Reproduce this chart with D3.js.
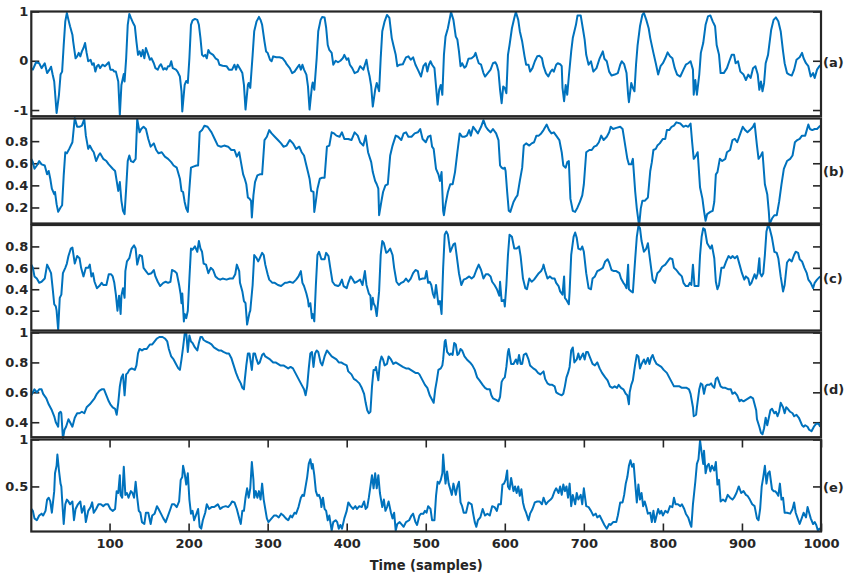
<!DOCTYPE html>
<html>
<head>
<meta charset="utf-8">
<script src="https://cdn.jsdelivr.net/npm/d3@7"></script>
<style>
  body { margin: 0; background: #fff; }
  text { font-family: "DejaVu Sans", sans-serif; font-weight: bold; fill: #262626; }
</style>
</head>
<body>
<div id="chart"></div>
<script>
// [sample, value]
const seriesA = [[1,-0.15],[3,-0.18],[7,-0.03],[11,-0.05],[14,-0.15],[18,-0.05],[21,-0.25],[24,-0.18],[26,-0.12],[28,-0.28],[30,-0.42],[33,-1.06],[36,-0.69],[38,-0.28],[40,-0.22],[42,0.32],[44,0.8],[46,0.97],[48,0.83],[50,0.70],[53,0.53],[54,0.39],[57,0.05],[59,0.09],[61,0.16],[63,0.09],[65,0.19],[67,0.26],[69,0.36],[71,0.16],[73,-0.01],[76,0.02],[78,-0.08],[80,-0.05],[82,-0.22],[84,-0.11],[86,-0.08],[88,-0.15],[91,-0.08],[94,-0.11],[96,-0.08],[99,-0.03],[101,-0.18],[104,-0.18],[106,-0.22],[108,-0.22],[111,-0.42],[113,-1.10],[115,-0.49],[118,-0.27],[119,-0.42],[121,0.05],[123,0.73],[125,0.95],[127,0.87],[130,0.76],[132,0.70],[134,0.39],[136,0.12],[138,0.19],[140,0.09],[142,0.22],[144,0.05],[146,0.26],[149,0.12],[151,0.02],[153,0.05],[156,-0.05],[158,-0.15],[161,-0.18],[163,-0.11],[165,-0.07],[168,-0.18],[170,-0.15],[172,-0.18],[174,-0.11],[176,-0.11],[178,-0.01],[180,-0.15],[184,-0.18],[186,-0.22],[189,-0.32],[191,-0.62],[192,-1.03],[195,-0.49],[197,-0.41],[199,-0.45],[201,0.05],[203,0.73],[205,0.82],[208,0.85],[211,0.83],[213,0.73],[215,0.46],[217,0.12],[219,0.09],[221,0.12],[223,0.05],[225,0.22],[227,0.16],[231,0.12],[234,0.05],[237,0.02],[239,-0.08],[243,-0.10],[248,-0.11],[251,-0.18],[255,-0.18],[258,-0.08],[260,-0.18],[262,-0.08],[265,-0.16],[268,-0.25],[270,-0.49],[272,-0.99],[275,-0.49],[276,-0.45],[278,-0.55],[281,0.12],[283,0.60],[286,0.80],[289,0.89],[291,0.83],[293,0.73],[296,0.39],[298,0.19],[300,0.16],[303,0.02],[305,-0.01],[307,0.09],[311,0.07],[315,0.07],[319,0.05],[322,-0.01],[324,-0.07],[328,-0.15],[331,-0.25],[334,-0.22],[337,-0.15],[340,-0.08],[342,-0.18],[344,-0.08],[346,-0.18],[349,-0.28],[351,-0.52],[353,-0.99],[356,-0.52],[357,-0.44],[359,-0.59],[362,0.05],[364,0.60],[367,0.83],[369,0.89],[372,0.88],[374,0.67],[376,0.32],[378,0.22],[381,0.16],[383,-0.08],[386,0],[389,-0.03],[392,0],[395,0.05],[397,0.12],[400,0.02],[402,0.05],[404,-0.08],[407,-0.15],[410,-0.25],[414,-0.22],[417,-0.11],[421,-0.18],[423,-0.08],[425,0.02],[427,-0.18],[429,-0.32],[431,-0.52],[433,-0.93],[436,-0.59],[438,-0.45],[441,-0.62],[443,0.05],[445,0.60],[448,0.80],[451,0.93],[454,0.87],[457,0.46],[459,0.32],[462,0.12],[464,-0.11],[467,-0.08],[471,-0.07],[475,0.07],[478,0.09],[481,0.02],[484,0.07],[487,-0.08],[490,-0.18],
  [494,-0.32],[497,-0.11],[500,-0.05],[502,-0.22],[504,-0.08],[506,-0.01],[508,-0.08],[511,-0.15],[513,-0.52],[515,-0.89],[517,-0.59],[519,-0.49],[521,-0.69],[523,0.12],[525,0.49],[528,0.66],[532,0.99],[535,0.83],[538,0.49],[540,0.43],[542,0.19],[544,-0.11],[546,-0.05],[549,-0.14],[551,-0.11],[554,0.04],[558,0.05],[561,0.09],[563,0.16],[565,0.05],[567,-0.05],[570,-0.08],[573,-0.25],[575,-0.32],[577,-0.28],[580,-0.22],[582,-0.18],[585,-0.05],[588,-0.03],[590,-0.09],[592,-0.22],[594,-0.59],[596,-0.86],[598,-0.52],[600,-0.55],[602,-0.66],[604,0.12],[606,0.32],[609,0.66],[612,0.87],[614,0.99],[617,0.83],[619,0.6],[622,0.39],[625,0.09],[627,-0.08],[630,-0.08],[632,-0.22],[635,-0.15],[638,-0.01],[641,0.09],[644,0.1],[647,0.05],[649,-0.11],[652,-0.25],[655,-0.32],[658,-0.22],[660,-0.18],[662,-0.22],[665,-0.08],[667,-0.05],[670,-0.07],[672,-0.11],[673,-0.55],[675,-0.82],[677,-0.49],[679,-0.69],[681,-0.32],[684,0.19],[686,0.46],[690,0.73],[692,0.92],[696,0.92],[699,0.63],[701,0.43],[703,0.12],[706,-0.08],[709,-0.01],[712,-0.22],[716,-0.15],[720,0.05],[724,0.19],[726,0.04],[729,-0.01],[732,-0.22],[735,-0.3],[739,-0.28],[743,-0.25],[746,-0.08],[748,-0.01],[751,-0.07],[754,-0.25],[756,-0.69],[757,-0.84],[760,-0.45],[762,-0.55],[764,-0.62],[766,-0.08],[768,0.32],[771,0.70],[774,0.93],[776,0.97],[779,0.83],[782,0.66],[784,0.46],[788,0.16],[791,-0.05],[794,-0.28],[797,-0.11],[800,-0.05],[803,0.05],[806,0.17],[809,0.09],[812,0.05],[815,-0.15],[818,-0.28],[822,-0.32],[826,-0.18],[829,-0.08],[832,-0.05],[835,-0.01],[838,-0.18],[839,-0.69],[841,-0.39],[843,-0.69],[846,-0.28],[848,0.16],[851,0.36],[854,0.73],[857,0.9],[860,0.92],[863,0.8],[866,0.70],[868,0.32],[871,0.12],[873,-0.25],[877,-0.25],[881,-0.15],[884,-0.01],[887,0.12],[890,0.12],[892,-0.05],[895,-0.01],[898,-0.22],[902,-0.28],[905,-0.39],[908,-0.28],[911,-0.35],[914,-0.15],[917,-0.11],[920,-0.28],[922,-0.59],[924,-0.42],[926,-0.62],[928,-0.45],[930,-0.05],[933,0.12],[937,0.63],[940,0.83],[943,0.88],[946,0.8],[949,0.6],[952,0.19],[954,-0.05],[957,-0.25],[960,-0.28],[963,-0.3],[966,-0.18],[969,0.02],[973,0.07],[976,0.16],[978,0.05],[981,-0.05],[984,-0.11],[987,-0.32],[990,-0.25],[992,-0.35],[995,-0.18],[998,-0.11],[1000,-0.08]];

const seriesB = [[1,0.64],[3,0.61],[5,0.55],[8,0.58],[11,0.62],[14,0.59],[18,0.58],[21,0.5],[23,0.53],[25,0.46],[27,0.37],[30,0.32],[31,0.34],[33,0.23],[35,0.16],[38,0.2],[40,0.22],[42,0.49],[44,0.7],[46,0.69],[49,0.73],[53,0.79],[56,1.01],[59,0.93],[62,0.93],[65,0.94],[68,1.0],[70,0.85],[73,0.73],[75,0.76],[78,0.72],[80,0.7],[83,0.62],[86,0.67],[88,0.69],[92,0.64],[96,0.62],[99,0.59],[104,0.55],[107,0.53],[109,0.44],[111,0.35],[113,0.43],[115,0.26],[117,0.17],[119,0.14],[121,0.37],[123,0.62],[125,0.67],[127,0.62],[130,0.61],[133,0.64],[135,1.0],[138,0.88],[140,0.91],[143,0.93],[146,0.91],[149,0.82],[152,0.75],[156,0.78],[159,0.72],[162,0.69],[166,0.7],[170,0.66],[174,0.64],[178,0.61],[181,0.58],[185,0.56],[189,0.46],[191,0.35],[193,0.34],[195,0.25],[197,0.19],[199,0.16],[201,0.37],[203,0.56],[206,0.57],[210,0.58],[212,0.58],[214,0.88],[217,0.9],[220,0.94],[224,0.93],[229,0.88],[233,0.82],[237,0.76],[241,0.75],[245,0.76],[250,0.75],[254,0.72],[258,0.72],[261,0.66],[264,0.7],[266,0.62],[269,0.5],[271,0.46],[273,0.41],[275,0.29],[277,0.28],[279,0.26],[280,0.11],[282,0.31],[284,0.43],[287,0.49],[290,0.5],[293,0.5],[296,0.81],[299,0.84],[302,0.9],[305,0.87],[309,0.84],[313,0.81],[317,0.78],[320,0.75],[324,0.76],[328,0.81],[332,0.78],[336,0.73],[340,0.75],[343,0.7],[346,0.67],[348,0.61],[351,0.52],[353,0.46],[355,0.35],[358,0.34],[359,0.16],[361,0.26],[363,0.37],[366,0.46],[369,0.47],[372,0.47],[375,0.75],[378,0.76],[381,0.88],[384,0.87],[387,0.85],[391,0.84],[394,0.88],[397,0.82],[402,0.82],[406,0.81],[410,0.88],[414,0.85],[417,0.79],[421,0.76],[424,0.85],[427,0.7],[431,0.61],[433,0.52],[436,0.44],[438,0.41],[440,0.37],[441,0.13],[444,0.26],[446,0.34],[449,0.4],[452,0.41],[455,0.67],[458,0.76],[462,0.85],[465,0.84],[469,0.81],[472,0.87],[475,0.88],[478,0.84],[482,0.84],[486,0.87],[490,0.88],[493,0.91],
  [496,0.82],[500,0.79],[503,0.84],[506,0.85],[508,0.75],[510,0.73],[513,0.55],[516,0.5],[518,0.44],[520,0.52],[522,0.17],[523,0.13],[525,0.23],[528,0.34],[531,0.41],[534,0.41],[537,0.52],[540,0.7],[543,0.87],[546,0.84],[549,0.84],[552,0.85],[555,0.9],[557,0.85],[560,0.93],[563,0.9],[566,0.87],[570,0.93],[573,0.99],[576,0.93],[579,0.9],[582,0.88],[585,0.91],[589,0.87],[592,0.81],[594,0.58],[596,0.56],[598,0.55],[600,0.56],[601,0.53],[603,0.34],[605,0.17],[607,0.16],[611,0.25],[614,0.29],[616,0.31],[619,0.44],[622,0.56],[624,0.76],[627,0.78],[631,0.76],[634,0.78],[637,0.79],[640,0.85],[643,0.85],[646,0.87],[649,0.9],[653,0.95],[656,0.9],[659,0.87],[662,0.88],[665,0.85],[669,0.81],[672,0.7],[674,0.58],[677,0.56],[679,0.61],[681,0.62],[683,0.28],[686,0.17],[689,0.16],[692,0.2],[695,0.25],[698,0.31],[700,0.41],[703,0.7],[707,0.72],[710,0.72],[713,0.75],[716,0.76],[719,0.79],[722,0.85],[725,0.81],[729,0.84],[732,0.88],[734,0.93],[737,0.91],[741,0.92],[746,0.93],[749,0.91],[751,0.82],[753,0.73],[755,0.64],[757,0.59],[760,0.59],[762,0.64],[765,0.34],[767,0.19],[769,0.08],[770,0.04],[772,0.19],[774,0.26],[777,0.26],[781,0.29],[784,0.53],[786,0.61],[788,0.72],[791,0.73],[793,0.76],[796,0.78],[800,0.82],[803,0.82],[805,0.9],[808,0.9],[811,0.93],[814,0.94],[817,0.97],[822,0.96],[826,0.93],[829,0.94],[832,0.93],[835,0.96],[837,0.79],[839,0.64],[842,0.67],[844,0.7],[847,0.38],[850,0.28],[852,0.17],[854,0.08],[856,0.14],[860,0.16],[863,0.17],[865,0.25],[867,0.5],[869,0.52],[872,0.64],[875,0.62],[879,0.64],[881,0.7],[885,0.72],[888,0.81],[891,0.82],[894,0.79],[898,0.87],[901,0.93],[904,0.9],[907,0.88],[910,0.9],[914,0.93],[916,0.96],[919,0.76],[921,0.64],[924,0.67],[926,0.7],[929,0.41],[932,0.32],[934,0.16],[935,0.05],[938,0.1],[941,0.13],[944,0.13],[947,0.25],[950,0.41],[953,0.55],[957,0.62],[961,0.64],[964,0.67],[967,0.79],[970,0.81],[973,0.82],[976,0.85],[980,0.85],[982,0.9],[984,0.95],[986,0.91],[989,0.9],[992,0.91],[995,0.91],[999,0.94]];

const seriesC = [[1,0.63],[3,0.6],[5,0.52],[8,0.5],[11,0.46],[14,0.47],[18,0.5],[21,0.63],[23,0.6],[26,0.55],[28,0.41],[30,0.26],[32,0.24],[33,0.2],[35,0.02],[37,0.32],[39,0.35],[41,0.55],[44,0.6],[46,0.64],[48,0.71],[51,0.78],[53,0.79],[56,0.64],[59,0.71],[62,0.69],[64,0.6],[67,0.52],[70,0.6],[73,0.6],[75,0.63],[77,0.52],[79,0.55],[81,0.47],[84,0.41],[87,0.43],[90,0.46],[92,0.44],[96,0.44],[99,0.54],[102,0.54],[104,0.52],[106,0.46],[108,0.35],[110,0.2],[112,0.34],[114,0.17],[115,0.34],[117,0.41],[119,0.32],[120,0.57],[122,0.66],[125,0.69],[128,0.78],[131,0.81],[133,0.78],[135,0.63],[138,0.72],[141,0.71],[143,0.6],[146,0.57],[149,0.54],[153,0.55],[156,0.58],[158,0.52],[161,0.47],[164,0.43],[168,0.46],[171,0.47],[174,0.46],[177,0.47],[179,0.58],[182,0.57],[185,0.55],[188,0.44],[190,0.35],[191,0.27],[192,0.36],[194,0.1],[195,0.17],[197,0.13],[199,0.2],[201,0.5],[203,0.78],[205,0.77],[208,0.8],[211,0.75],[213,0.85],[215,0.78],[217,0.75],[219,0.64],[222,0.63],[225,0.55],[228,0.6],[231,0.58],[234,0.52],[237,0.5],[240,0.49],[243,0.5],[248,0.49],[252,0.5],[256,0.5],[259,0.54],[261,0.63],[264,0.57],[265,0.46],[268,0.38],[270,0.29],[272,0.27],[273,0.17],[274,0.07],[277,0.18],[278,0.2],[281,0.44],[283,0.72],[286,0.69],[288,0.66],[290,0.69],[293,0.74],[295,0.72],[297,0.63],[300,0.54],[302,0.49],[306,0.46],[309,0.46],[313,0.44],[317,0.43],[322,0.46],[324,0.46],[328,0.47],[332,0.46],[336,0.49],[339,0.52],[342,0.57],[344,0.46],[346,0.43],[349,0.36],[351,0.3],[352,0.24],[354,0.27],[356,0.13],[357,0.17],[359,0.1],[361,0.44],[363,0.72],[365,0.75],[368,0.68],[372,0.68],[374,0.74],[377,0.71],[379,0.61],[382,0.47],[385,0.44],[389,0.43],[391,0.44],[394,0.49],[396,0.43],[400,0.41],[402,0.46],[405,0.52],[407,0.5],[410,0.46],[413,0.47],[417,0.49],[420,0.44],[423,0.57],[425,0.44],[428,0.36],[430,0.34],[431,0.21],[433,0.32],[434,0.27],[436,0.24],[438,0.15],[441,0.38],[443,0.72],[445,0.85],[447,0.83],[450,0.74],[452,0.75],[455,0.78],[458,0.72],[460,0.6],[463,0.47],[466,0.44],[469,0.46],[472,0.47],[475,0.5],[478,0.47],[481,0.5],[484,0.55],[487,0.58],[490,0.57],
  [492,0.49],[496,0.5],[499,0.5],[501,0.57],[503,0.46],[505,0.47],[507,0.44],[509,0.36],[511,0.32],[513,0.44],[516,0.26],[518,0.29],[520,0.17],[522,0.6],[524,0.91],[526,0.94],[528,0.91],[531,0.75],[535,0.82],[537,0.83],[539,0.72],[542,0.55],[545,0.44],[548,0.49],[551,0.5],[555,0.52],[558,0.5],[561,0.52],[564,0.58],[567,0.63],[570,0.58],[573,0.5],[576,0.54],[579,0.54],[582,0.52],[584,0.47],[587,0.44],[590,0.4],[593,0.34],[594,0.47],[596,0.29],[599,0.3],[600,0.24],[602,0.44],[604,0.72],[606,0.91],[609,0.89],[612,0.78],[615,0.78],[618,0.8],[620,0.71],[623,0.5],[626,0.41],[628,0.4],[631,0.5],[634,0.47],[637,0.49],[640,0.52],[643,0.55],[646,0.57],[648,0.6],[649,0.63],[651,0.57],[654,0.5],[657,0.52],[660,0.5],[663,0.5],[665,0.46],[668,0.43],[670,0.38],[673,0.35],[675,0.52],[676,0.32],[678,0.3],[681,0.26],[682,0.38],[684,0.72],[687,0.89],[689,0.93],[691,0.88],[693,0.78],[696,0.77],[698,0.8],[700,0.75],[703,0.55],[706,0.41],[709,0.4],[711,0.5],[714,0.52],[717,0.57],[720,0.58],[724,0.6],[727,0.66],[730,0.68],[732,0.65],[735,0.58],[738,0.57],[741,0.57],[745,0.55],[747,0.5],[750,0.46],[752,0.44],[754,0.41],[756,0.63],[757,0.4],[760,0.38],[762,0.37],[765,0.69],[767,0.89],[769,0.99],[771,0.97],[773,0.85],[776,0.75],[779,0.78],[781,0.83],[784,0.66],[787,0.49],[790,0.46],[793,0.55],[796,0.57],[799,0.61],[803,0.63],[806,0.66],[809,0.69],[812,0.68],[814,0.6],[817,0.58],[820,0.55],[824,0.52],[826,0.46],[829,0.43],[832,0.43],[834,0.46],[836,0.44],[838,0.63],[840,0.43],[843,0.43],[845,0.43],[847,0.72],[849,0.89],[851,0.97],[853,0.96],[856,0.83],[860,0.78],[862,0.81],[865,0.69],[867,0.47],[869,0.4],[871,0.44],[874,0.6],[877,0.6],[880,0.66],[883,0.71],[886,0.69],[888,0.71],[891,0.69],[894,0.71],[897,0.63],[900,0.55],[903,0.49],[905,0.52],[908,0.5],[910,0.44],[912,0.46],[916,0.54],[918,0.5],[920,0.55],[922,0.69],[923,0.55],[925,0.52],[927,0.55],[929,0.72],[931,0.94],[933,1.0],[935,0.97],[938,0.88],[941,0.75],[944,0.74],[946,0.69],[949,0.52],[952,0.38],[954,0.44],[957,0.65],[960,0.68],[963,0.66],[966,0.72],[968,0.75],[971,0.74],[973,0.68],[976,0.66],[979,0.6],[982,0.55],[984,0.49],[987,0.46],[990,0.41],[992,0.46],[995,0.49],[999,0.52]];

const seriesD = [[1,0.58],[3,0.6],[5,0.62],[8,0.6],[11,0.62],[14,0.62],[16,0.59],[20,0.56],[23,0.52],[25,0.5],[27,0.48],[30,0.44],[32,0.4],[33,0.39],[35,0.37],[36,0.46],[38,0.47],[39,0.46],[41,0.29],[43,0.35],[45,0.37],[48,0.42],[50,0.4],[53,0.37],[56,0.43],[59,0.46],[62,0.46],[65,0.47],[68,0.46],[71,0.5],[75,0.52],[78,0.54],[81,0.56],[84,0.59],[87,0.61],[90,0.62],[93,0.62],[96,0.58],[99,0.54],[101,0.52],[104,0.5],[107,0.49],[109,0.45],[111,0.53],[113,0.64],[115,0.7],[117,0.72],[119,0.58],[121,0.72],[123,0.73],[125,0.75],[128,0.76],[132,0.75],[134,0.78],[136,0.86],[138,0.89],[141,0.88],[144,0.89],[147,0.89],[151,0.92],[154,0.92],[157,0.94],[160,0.96],[163,0.97],[167,0.97],[170,0.96],[173,0.94],[175,0.89],[178,0.84],[181,0.82],[184,0.79],[187,0.76],[189,0.75],[191,0.82],[193,0.9],[195,0.99],[197,1.0],[199,0.87],[201,0.98],[203,0.94],[205,0.93],[208,0.9],[211,0.88],[213,0.93],[215,0.97],[217,0.97],[219,0.95],[222,0.94],[226,0.93],[229,0.92],[232,0.9],[235,0.89],[238,0.88],[241,0.88],[244,0.87],[248,0.86],[251,0.86],[254,0.83],[257,0.78],[260,0.73],[263,0.69],[266,0.66],[268,0.63],[270,0.62],[271,0.68],[273,0.78],[275,0.86],[277,0.86],[280,0.75],[282,0.86],[284,0.86],[286,0.82],[288,0.79],[290,0.8],[293,0.85],[295,0.86],[297,0.84],[300,0.83],[303,0.82],[307,0.8],[310,0.8],[313,0.79],[316,0.78],[320,0.78],[323,0.77],[326,0.76],[329,0.77],[332,0.76],[335,0.73],[338,0.7],[341,0.67],[343,0.65],[346,0.62],[348,0.58],[350,0.64],[352,0.76],[354,0.86],[356,0.87],[358,0.77],[360,0.86],[362,0.88],[364,0.87],[367,0.8],[369,0.78],[372,0.84],[375,0.88],[378,0.86],[381,0.84],[384,0.83],[387,0.82],[390,0.8],[393,0.8],[396,0.79],[400,0.78],[402,0.74],[406,0.72],[409,0.69],[412,0.68],[416,0.66],[419,0.63],[422,0.59],[424,0.53],[426,0.48],[428,0.46],[430,0.47],[432,0.64],[434,0.75],[436,0.75],[437,0.77],[440,0.68],[442,0.8],[444,0.84],[446,0.82],[448,0.78],[451,0.79],[453,0.84],[456,0.82],[459,0.79],[462,0.8],[465,0.79],[468,0.78],[471,0.77],[475,0.76],[478,0.76],[481,0.75],[484,0.74],[487,0.73],[490,0.73],
  [492,0.72],[496,0.68],[499,0.65],[502,0.63],[505,0.58],[508,0.55],[510,0.53],[512,0.62],[514,0.68],[516,0.75],[519,0.76],[521,0.78],[522,0.82],[524,0.94],[525,0.95],[527,0.87],[530,0.85],[532,0.86],[534,0.85],[536,0.93],[538,0.92],[540,0.85],[542,0.86],[544,0.89],[546,0.88],[549,0.84],[552,0.82],[556,0.8],[559,0.78],[562,0.75],[565,0.7],[568,0.68],[572,0.65],[575,0.63],[578,0.62],[581,0.62],[583,0.58],[585,0.56],[589,0.55],[592,0.54],[594,0.57],[596,0.67],[598,0.69],[600,0.7],[602,0.77],[604,0.87],[605,0.89],[608,0.79],[611,0.79],[614,0.82],[616,0.79],[618,0.85],[620,0.79],[622,0.79],[624,0.85],[627,0.86],[630,0.82],[632,0.78],[636,0.76],[639,0.75],[642,0.73],[645,0.72],[649,0.74],[651,0.69],[654,0.66],[657,0.65],[660,0.65],[663,0.64],[665,0.6],[668,0.59],[672,0.58],[674,0.59],[676,0.64],[678,0.7],[680,0.73],[682,0.77],[684,0.88],[686,0.9],[688,0.8],[691,0.82],[693,0.86],[695,0.82],[697,0.84],[699,0.86],[701,0.82],[703,0.87],[705,0.87],[708,0.83],[711,0.79],[714,0.78],[717,0.8],[720,0.76],[723,0.73],[727,0.7],[730,0.68],[733,0.64],[736,0.63],[739,0.64],[742,0.63],[744,0.65],[747,0.63],[750,0.62],[753,0.59],[755,0.58],[757,0.52],[758,0.6],[760,0.65],[762,0.68],[765,0.79],[767,0.85],[769,0.84],[771,0.76],[773,0.79],[776,0.82],[778,0.79],[781,0.83],[783,0.79],[785,0.83],[787,0.85],[789,0.82],[792,0.79],[795,0.78],[798,0.77],[801,0.75],[805,0.73],[808,0.7],[811,0.67],[814,0.64],[817,0.64],[821,0.64],[824,0.63],[827,0.63],[830,0.63],[833,0.62],[835,0.59],[838,0.5],[839,0.44],[842,0.45],[843,0.5],[846,0.62],[848,0.66],[850,0.65],[852,0.59],[854,0.64],[856,0.65],[859,0.65],[861,0.66],[863,0.64],[865,0.63],[867,0.69],[869,0.7],[871,0.67],[873,0.64],[876,0.63],[879,0.63],[883,0.62],[886,0.62],[888,0.59],[891,0.6],[894,0.58],[897,0.54],[899,0.55],[902,0.54],[905,0.55],[908,0.56],[911,0.57],[914,0.56],[916,0.52],[918,0.48],[919,0.42],[922,0.37],[924,0.33],[926,0.32],[928,0.36],[930,0.43],[932,0.38],[934,0.43],[936,0.48],[938,0.49],[941,0.46],[943,0.47],[945,0.44],[947,0.47],[949,0.53],[952,0.5],[954,0.46],[956,0.5],[958,0.49],[961,0.47],[964,0.46],[966,0.44],[969,0.45],[972,0.43],[976,0.38],[978,0.37],[980,0.38],[983,0.37],[985,0.35],[988,0.34],[991,0.37],[994,0.39],[997,0.39],[999,0.37]];

const seriesE = [[1,0.26],[3,0.24],[5,0.16],[8,0.14],[11,0.19],[14,0.21],[16,0.19],[19,0.24],[21,0.36],[23,0.38],[25,0.34],[27,0.22],[30,0.45],[31,0.64],[33,0.72],[34,0.84],[36,0.67],[38,0.53],[39,0.5],[40,0.36],[42,0.1],[44,0.31],[46,0.36],[48,0.34],[50,0.31],[53,0.34],[55,0.14],[57,0.26],[60,0.31],[63,0.34],[65,0.22],[68,0.29],[70,0.12],[73,0.24],[76,0.28],[78,0.33],[80,0.22],[83,0.26],[86,0.31],[89,0.31],[92,0.29],[95,0.31],[98,0.31],[101,0.26],[104,0.24],[107,0.26],[109,0.45],[111,0.43],[113,0.62],[114,0.41],[116,0.38],[118,0.71],[120,0.41],[122,0.43],[124,0.38],[127,0.45],[129,0.43],[131,0.38],[133,0.55],[135,0.38],[137,0.24],[139,0.22],[141,0.12],[144,0.1],[146,0.22],[149,0.22],[152,0.1],[154,0.19],[157,0.21],[160,0.29],[162,0.26],[165,0.21],[168,0.16],[171,0.12],[174,0.19],[177,0.26],[179,0.31],[182,0.31],[185,0.28],[188,0.34],[190,0.57],[192,0.6],[193,0.72],[195,0.64],[197,0.52],[199,0.64],[201,0.36],[203,0.21],[205,0.24],[207,0.14],[210,0.21],[212,0.26],[214,0.07],[216,0.05],[218,0.14],[221,0.22],[223,0.31],[226,0.26],[229,0.28],[232,0.28],[234,0.29],[237,0.31],[240,0.26],[243,0.28],[247,0.29],[250,0.28],[253,0.31],[255,0.34],[258,0.33],[261,0.26],[264,0.16],[266,0.1],[268,0.24],[270,0.24],[272,0.38],[274,0.48],[276,0.38],[278,0.48],[280,0.76],[282,0.57],[283,0.38],[285,0.45],[287,0.38],[289,0.45],[291,0.36],[293,0.53],[295,0.36],[297,0.26],[299,0.16],[301,0.12],[305,0.16],[308,0.19],[311,0.19],[314,0.17],[317,0.21],[320,0.19],[323,0.16],[326,0.14],[329,0.19],[331,0.17],[334,0.22],[336,0.21],[339,0.28],[342,0.38],[344,0.41],[346,0.4],[348,0.5],[350,0.6],[352,0.74],[354,0.79],[356,0.69],[357,0.74],[359,0.62],[361,0.45],[363,0.4],[365,0.41],[367,0.36],[368,0.28],[370,0.38],[372,0.26],[374,0.24],[376,0.14],[378,0.19],[381,0.03],[383,0.12],[386,0.14],[388,0.12],[390,0.05],[392,0.09],[394,0.05],[397,0.16],[400,0.24],[402,0.33],[405,0.29],[408,0.26],[411,0.29],[413,0.26],[416,0.29],[419,0.28],[422,0.34],[424,0.26],[426,0.28],[428,0.38],[430,0.5],[432,0.62],[434,0.48],[436,0.64],[438,0.48],[440,0.62],[442,0.43],[445,0.28],[447,0.36],[449,0.24],[451,0.28],[453,0.34],[456,0.22],[458,0.16],[460,0.22],[462,0.03],[464,0.1],[467,0.12],[470,0.09],[472,0.07],[475,0.12],[479,0.14],[482,0.19],[484,0.21],[487,0.12],[489,0.09],[492,0.19],
  [494,0.21],[497,0.21],[499,0.24],[501,0.22],[503,0.29],[506,0.26],[508,0.14],[511,0.14],[513,0.4],[515,0.55],[517,0.53],[519,0.57],[521,0.64],[522,0.84],[524,0.62],[525,0.53],[527,0.66],[529,0.53],[531,0.47],[533,0.41],[535,0.53],[538,0.41],[540,0.5],[542,0.55],[544,0.33],[546,0.29],[548,0.22],[551,0.22],[554,0.33],[558,0.31],[560,0.21],[562,0.12],[564,0.07],[566,0.14],[569,0.17],[572,0.26],[575,0.19],[578,0.21],[581,0.19],[584,0.29],[587,0.28],[590,0.24],[592,0.31],[595,0.31],[597,0.52],[599,0.53],[601,0.57],[603,0.67],[604,0.5],[606,0.47],[608,0.59],[611,0.45],[613,0.5],[615,0.43],[617,0.5],[619,0.4],[621,0.47],[623,0.33],[625,0.26],[627,0.22],[630,0.14],[632,0.21],[635,0.26],[638,0.33],[641,0.34],[644,0.34],[647,0.31],[649,0.38],[652,0.31],[655,0.34],[658,0.36],[660,0.38],[663,0.45],[665,0.48],[668,0.43],[670,0.5],[672,0.41],[674,0.52],[676,0.45],[678,0.5],[680,0.38],[682,0.53],[684,0.29],[686,0.41],[689,0.31],[691,0.43],[693,0.36],[696,0.41],[698,0.31],[700,0.48],[703,0.29],[706,0.28],[709,0.24],[712,0.19],[715,0.21],[717,0.17],[720,0.19],[723,0.14],[726,0.09],[729,0.05],[732,0.1],[734,0.09],[737,0.12],[741,0.12],[743,0.19],[746,0.33],[749,0.33],[751,0.41],[753,0.53],[755,0.6],[757,0.72],[759,0.78],[761,0.71],[763,0.74],[765,0.53],[767,0.33],[769,0.52],[771,0.36],[773,0.43],[775,0.29],[777,0.34],[779,0.28],[781,0.21],[784,0.22],[786,0.12],[788,0.24],[790,0.12],[792,0.19],[794,0.26],[796,0.21],[798,0.24],[800,0.19],[803,0.24],[806,0.22],[809,0.29],[812,0.28],[814,0.38],[816,0.31],[819,0.31],[822,0.29],[824,0.31],[827,0.26],[829,0.21],[832,0.17],[835,0.09],[836,0.07],[838,0.31],[841,0.55],[843,0.74],[845,0.79],[847,0.99],[849,0.86],[851,0.74],[852,0.88],[854,0.64],[856,0.72],[858,0.74],[860,0.66],[862,0.72],[865,0.67],[867,0.76],[869,0.52],[871,0.57],[873,0.34],[876,0.36],[879,0.34],[882,0.41],[885,0.38],[888,0.36],[890,0.38],[893,0.43],[896,0.5],[899,0.43],[902,0.45],[905,0.41],[907,0.4],[910,0.36],[913,0.31],[916,0.29],[919,0.16],[921,0.14],[923,0.26],[925,0.5],[927,0.6],[929,0.72],[931,0.53],[933,0.64],[935,0.66],[938,0.47],[940,0.45],[942,0.45],[944,0.43],[946,0.4],[948,0.53],[950,0.36],[952,0.38],[954,0.22],[957,0.22],[961,0.21],[964,0.26],[966,0.33],[968,0.22],[970,0.17],[973,0.1],[976,0.17],[978,0.22],[981,0.17],[983,0.28],[985,0.22],[987,0.16],[990,0.1],[992,0.12],[994,0.09],[996,0.03],[998,0.05],[1000,0.03]];

const panelLabels = ["(a)", "(b)", "(c)", "(d)", "(e)"];
const yLimits = [[-1.125, 1.0], [0.055, 1.005], [0.015, 1.0], [0.3, 1.0], [0.02, 1.0]];
const yTicks = [[-1, 0, 1], [0.2, 0.4, 0.6, 0.8], [0.2, 0.4, 0.6, 0.8], [0.4, 0.6, 0.8, 1], [0.5, 1]];
const xTicks = [100, 200, 300, 400, 500, 600, 700, 800, 900, 1000];
const allSeries = [seriesA, seriesB, seriesC, seriesD, seriesE];

const W = 848, H = 580;
const plotLeft = 31.3, plotRight = 821;
// top / bottom edge of each axes box
const boxes = [[11.5, 116.2], [118.5, 223.5], [225, 330.5], [332.5, 437.2], [439.5, 531.5]];
const labelMid = [62.5, 171.8, 278.8, 389.5, 487];
const ink = "#262626";

const svg = d3.select("#chart").append("svg")
  .attr("width", W)
  .attr("height", H);

const x = d3.scaleLinear().domain([1, 1000]).range([plotLeft, plotRight]);

allSeries.forEach(function (data, i) {
  const top = boxes[i][0], bottom = boxes[i][1];
  const y = d3.scaleLinear().domain(yLimits[i]).range([bottom, top]);
  const g = svg.append("g");

  // left axis with labels, ticks pointing inward
  g.append("g")
    .attr("transform", "translate(" + plotLeft + ",0)")
    .call(d3.axisLeft(y).tickValues(yTicks[i]).tickSize(-8).tickPadding(3)
      .tickFormat(d => String(d)))
    .call(a => a.select(".domain").remove());

  // right axis, ticks only
  g.append("g")
    .attr("transform", "translate(" + plotRight + ",0)")
    .call(d3.axisRight(y).tickValues(yTicks[i]).tickSize(-8).tickFormat(""))
    .call(a => a.select(".domain").remove());

  if (i === allSeries.length - 1) {
    g.append("g")
      .attr("transform", "translate(0," + bottom + ")")
      .call(d3.axisBottom(x).tickValues(xTicks).tickSize(-8).tickPadding(7)
        .tickFormat(d => String(d)))
      .call(a => a.select(".domain").remove());
    g.append("g")
      .attr("transform", "translate(0," + top + ")")
      .call(d3.axisTop(x).tickValues(xTicks).tickSize(-8).tickFormat(""))
      .call(a => a.select(".domain").remove());
  }

  g.selectAll(".tick line").attr("stroke", ink).attr("stroke-width", 1.6);
  g.selectAll(".tick text")
    .attr("fill", ink)
    .style("font-size", "13px")
    .style("font-family", "'DejaVu Sans', sans-serif")
    .style("font-weight", "bold");

  // the signal
  const line = d3.line().x(d => x(d[0])).y(d => y(d[1]));
  g.append("path")
    .datum(data)
    .attr("fill", "none")
    .attr("stroke", "#0072BD")
    .attr("stroke-width", 2)
    .attr("stroke-linejoin", "round")
    .attr("d", line);

  // box
  g.append("rect")
    .attr("x", plotLeft)
    .attr("y", top)
    .attr("width", plotRight - plotLeft)
    .attr("height", bottom - top)
    .attr("fill", "none")
    .attr("stroke", ink)
    .attr("stroke-width", 2.2);

  g.append("text")
    .attr("x", plotRight + 2)
    .attr("y", labelMid[i])
    .attr("dy", "0.35em")
    .style("font-size", "13px")
    .text(panelLabels[i]);
});

svg.append("text")
  .attr("x", (plotLeft + plotRight) / 2)
  .attr("y", 570)
  .attr("text-anchor", "middle")
  .attr("textLength", 113)
  .attr("lengthAdjust", "spacingAndGlyphs")
  .style("font-size", "14.5px")
  .text("Time (samples)");
</script>
</body>
</html>
